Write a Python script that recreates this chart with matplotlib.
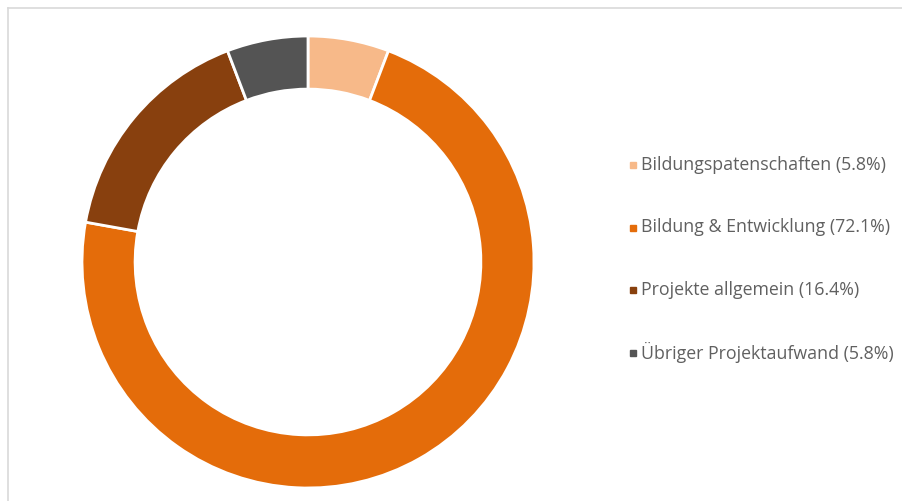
import matplotlib
matplotlib.use("Agg")
import matplotlib.pyplot as plt
from matplotlib.patches import Rectangle
from matplotlib.lines import Line2D

# ── data ─────────────────────────────────────────────────────────────
labels = ["Bildungspatenschaften", "Bildung & Entwicklung",
          "Projekte allgemein", "Übriger Projektaufwand"]
shares = [5.8, 72.1, 16.4, 5.8]
colors = ["#F7B989", "#E46C0A", "#88400E", "#545454"]

W, H = 903, 501
fig = plt.figure(figsize=(W / 100, H / 100), dpi=100)

# frame of the screenshot: only top and left edges are visible
frame_x, frame_y = 7.5 / W, 1 - 7.5 / H
fig.lines.append(Line2D([frame_x, 1], [frame_y, frame_y], transform=fig.transFigure,
                        color="#D9D9D9", lw=1.2))
fig.lines.append(Line2D([frame_x, frame_x], [0, frame_y], transform=fig.transFigure,
                        color="#D9D9D9", lw=1.2))

cx, cy, r = 308, 262, 226
ax = fig.add_axes([(cx - r) / W, (H - cy - r) / H, 2 * r / W, 2 * r / H])
ax.pie(shares, colors=colors, startangle=90, counterclock=False, radius=1,
       wedgeprops=dict(width=0.235, edgecolor="white", linewidth=2.0))
ax.set_xlim(-1, 1)
ax.set_ylim(-1, 1)
ax.set_aspect("equal")
ax.axis("off")

# legend drawn by hand so rows sit where the original has them
y0, dy = 165, 62.5
for i, (lab, s, c) in enumerate(zip(labels, shares, colors)):
    y = y0 + i * dy
    fig.patches.append(Rectangle(((633 - 3) / W, 1 - (y + 3) / H), 6 / W, 6 / H,
                                 transform=fig.transFigure, color=c))
    fig.text(641 / W, 1 - y / H, f"{lab} ({s}%)", ha="left", va="center",
             color="#606060", family="Open Sans", fontsize=12.8)

fig.savefig("out.png", dpi=100)
